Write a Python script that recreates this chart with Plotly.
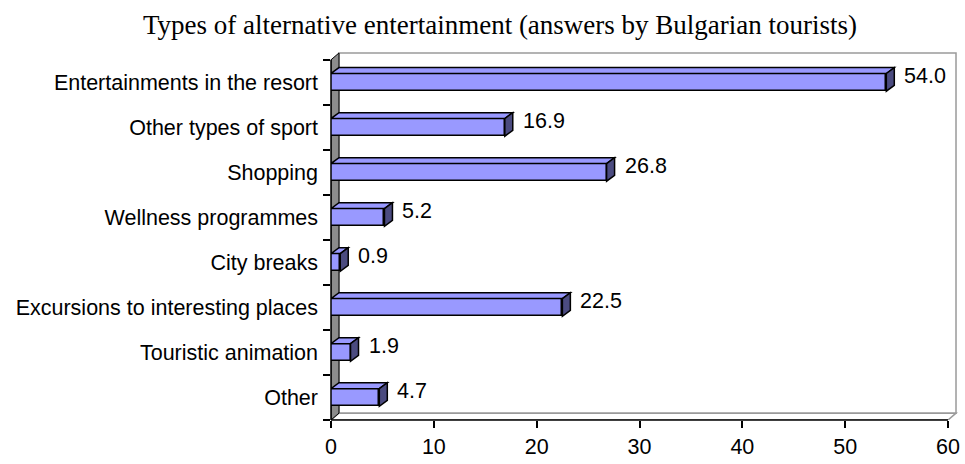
import plotly.graph_objects as go

# Survey results: types of alternative entertainment (answers by Bulgarian tourists), %
categories = [
    "Entertainments in the resort",
    "Other types of sport",
    "Shopping",
    "Wellness programmes",
    "City breaks",
    "Excursions to interesting places",
    "Touristic animation",
    "Other",
]
values = [54.0, 16.9, 26.8, 5.2, 0.9, 22.5, 1.9, 4.7]
x_ticks = [0, 10, 20, 30, 40, 50, 60]

# ---- geometry of the pseudo-3D plot box (pixels) ----
W, H = 965, 464
L, R, T, B = 331, 960, 51, 427          # plot domain in pixels
PX_X = 619 / 60.0                       # pixels per value unit
PX_Y = 45.875                           # pixels per category row
DX_W, DY_W = 8, 7                       # wall depth offset (px)
DX_B, DY_B = 8, 6                       # bar depth offset (px)
BAR_W = 18 / PX_Y                       # bar thickness in category units

n = len(categories)
y_idx = list(range(n))
x_max = (R - L) / PX_X
y_bottom = n - 0.5
y_top = y_bottom - (B - T) / PX_Y

dxw = DX_W / PX_X
dyw = DY_W / PX_Y
dxb = DX_B / PX_X
dyb = DY_B / PX_Y

FONT = "Liberation Sans, Arial, sans-serif"
LABEL_SIZE = 21.5
BAR_FRONT = "#9999FF"
BAR_TOP = "#9999FF"
BAR_SIDE = "#4B4B80"
WALL = "#8C8C8C"
FRAME = "#9A9A9A"

fig = go.Figure()

fig.add_trace(go.Bar(
    x=values,
    y=y_idx,
    orientation="h",
    width=BAR_W,
    marker=dict(color=BAR_FRONT, line=dict(color="black", width=1.5)),
    hoverinfo="skip",
    showlegend=False,
))

shapes = []

# back wall
shapes.append(dict(
    type="rect", xref="x", yref="y", layer="below",
    x0=dxw, x1=60 + dxw, y0=-0.5 - dyw, y1=y_bottom - dyw,
    fillcolor="white", line=dict(color=FRAME, width=1.5),
))
# floor
shapes.append(dict(
    type="path", xref="x", yref="y", layer="below",
    path=f"M 0,{y_bottom} L {dxw},{y_bottom - dyw} L {60 + dxw},{y_bottom - dyw} L 60,{y_bottom} Z",
    fillcolor="white", line=dict(color=FRAME, width=1.5),
))
# left wall
shapes.append(dict(
    type="path", xref="x", yref="y", layer="below",
    path=f"M 0,-0.5 L {dxw},{-0.5 - dyw} L {dxw},{y_bottom - dyw} L 0,{y_bottom} Z",
    fillcolor=WALL, line=dict(color="black", width=1),
))

# top and side faces of each bar
for i, v in enumerate(values):
    top = i - BAR_W / 2
    bot = i + BAR_W / 2
    shapes.append(dict(
        type="path", xref="x", yref="y", layer="above",
        path=f"M 0,{top} L {dxb},{top - dyb} L {v + dxb},{top - dyb} L {v},{top} Z",
        fillcolor=BAR_TOP, line=dict(color="black", width=1.5),
    ))
    shapes.append(dict(
        type="path", xref="x", yref="y", layer="above",
        path=f"M {v},{top} L {v + dxb},{top - dyb} L {v + dxb},{bot - dyb} L {v},{bot} Z",
        fillcolor=BAR_SIDE, line=dict(color="black", width=1.5),
    ))

# front axis lines
shapes.append(dict(
    type="line", xref="x", yref="paper", layer="above",
    x0=0, x1=60, y0=0, y1=0, line=dict(color="black", width=1.5),
))
shapes.append(dict(
    type="line", xref="paper", yref="y", layer="above",
    x0=0, x1=0, y0=-0.5, y1=y_bottom, line=dict(color="black", width=1.5),
))

annotations = []
for i, v in enumerate(values):
    annotations.append(dict(
        x=v, y=i, xref="x", yref="y",
        text=f"{v:.1f}", showarrow=False,
        xanchor="left", yanchor="middle",
        xshift=DX_B + 8, yshift=6,
        font=dict(family=FONT, size=LABEL_SIZE, color="black"),
    ))

fig.update_layout(
    width=W, height=H,
    margin=dict(l=L, r=W - R, t=T, b=H - B, pad=0),
    paper_bgcolor="white",
    plot_bgcolor="white",
    title=dict(
        text="Types of alternative entertainment (answers by Bulgarian tourists)",
        x=500 / W, xanchor="center", xref="container",
        y=1 - 25 / H, yanchor="middle", yref="container",
        font=dict(family="Liberation Serif, Times New Roman, serif", size=27, color="black"),
    ),
    xaxis=dict(
        range=[0, x_max],
        tickmode="array", tickvals=x_ticks, ticktext=[str(t) for t in x_ticks],
        ticks="outside", ticklen=7, tickwidth=1.5, tickcolor="black",
        showgrid=False, zeroline=False, showline=False,
        tickfont=dict(family=FONT, size=LABEL_SIZE, color="black"),
    ),
    yaxis=dict(
        range=[y_bottom, y_top],
        tickmode="array", tickvals=y_idx, ticktext=categories,
        ticks="", showgrid=False, zeroline=False, showline=False,
        ticklabelstandoff=12,
        minor=dict(
            tickmode="array", tickvals=[k - 0.5 for k in range(n + 1)],
            ticks="outside", ticklen=7, tickwidth=1.5, tickcolor="black",
            showgrid=False,
        ),
        tickfont=dict(family=FONT, size=LABEL_SIZE, color="black"),
    ),
    shapes=shapes,
    annotations=annotations,
    bargap=0,
)

fig.write_html("out.html")
